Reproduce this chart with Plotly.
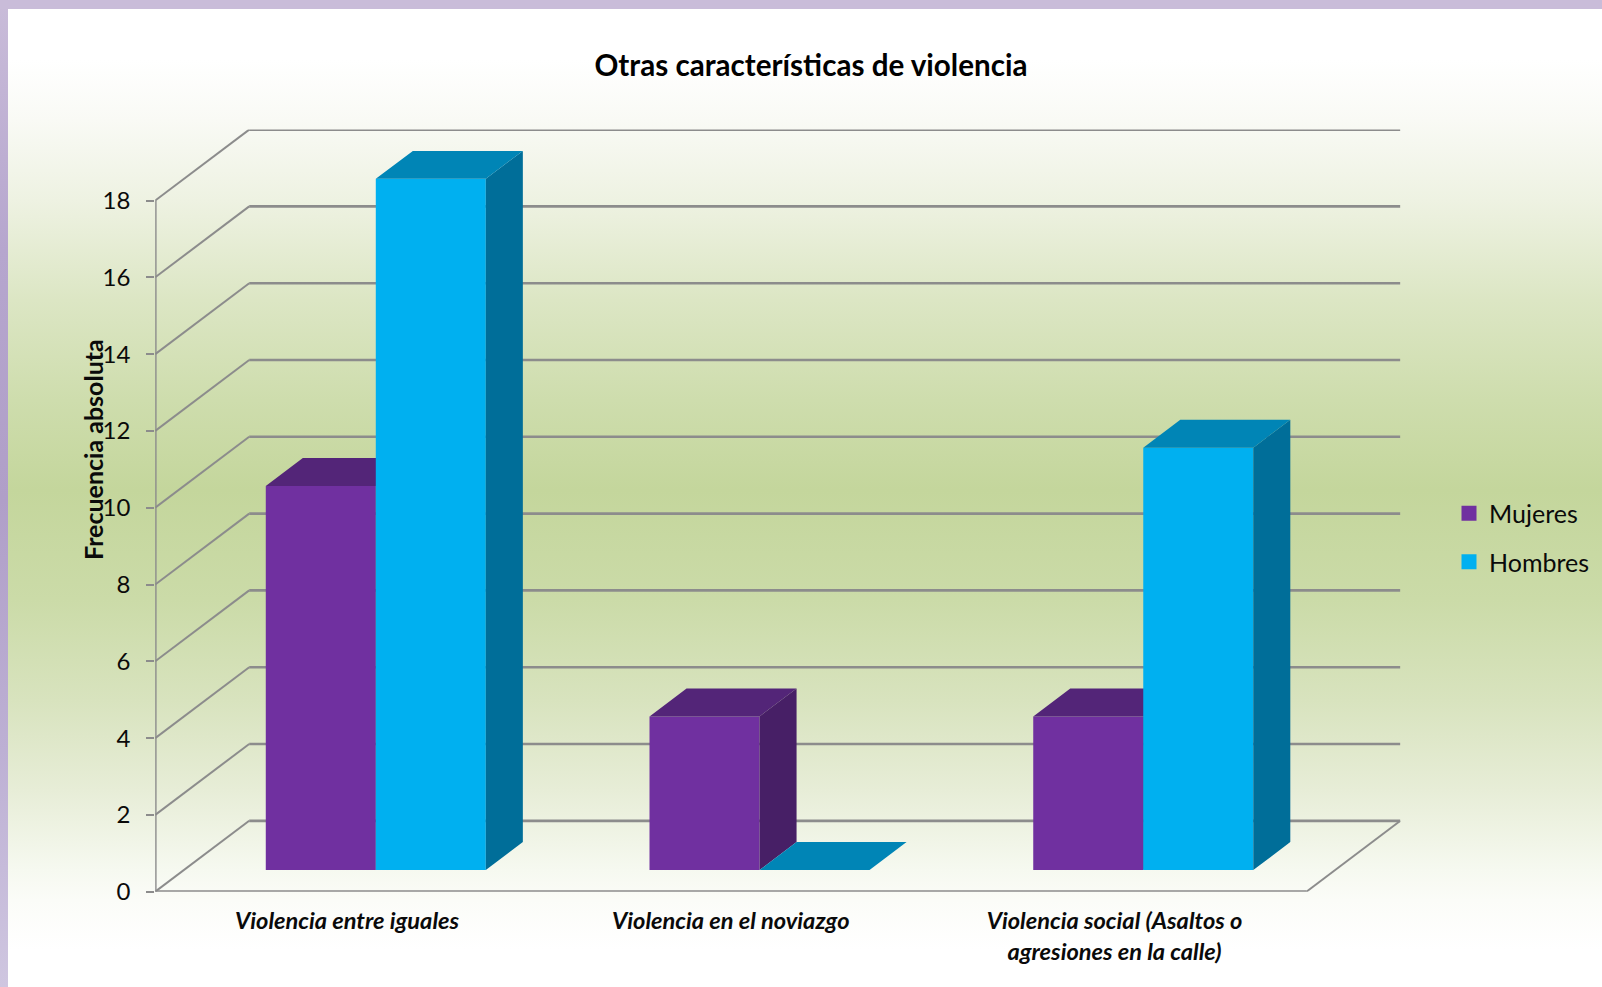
import plotly.graph_objects as go

CATEGORIES = ["Violencia entre iguales", "Violencia en el noviazgo",
              "Violencia social (Asaltos o<br>agresiones en la calle)"]
MUJERES = [10, 4, 4]
HOMBRES = [18, 0, 11]
Y_TICKS = [0, 2, 4, 6, 8, 10, 12, 14, 16, 18]
TITLE = "Otras características de violencia"
Y_TITLE = "Frecuencia absoluta"

W, H = 1602, 987
FONT = "Lato"
INK = "#0a0a0a"
GRID = "#8c8c8c"

# pseudo-3D geometry in data units (categories on x, counts on y)
DEPTH_X, DEPTH_Y = 0.245, 1.847
BAR_W = 0.2867
FRONT = 0.3056      # share of the floor depth in front of the bars
BAR_DEPTH = 0.394   # share of the floor depth taken by the bars
X0, X1 = 0.5, 3.5
Y_TOP = max(Y_TICKS)

PURPLE = ("#7030A0", "#532578", "#471F66")
BLUE = ("#00B0F0", "#0085B6", "#006E99")

# plot rectangle in page pixels
L, R, T, B = 155.2, 1400.4, 129.6, 891.7

BG_STOPS = [(0, "#FFFFFF"), (60, "#FFFFFF"), (120, "#F9FAF5"), (200, "#EEF2E2"), (300, "#DCE6C4"),
            (400, "#CEDDAD"), (490, "#C4D69C"), (600, "#CBDBA8"), (700, "#D8E3BE"), (790, "#E7EDD7"),
            (870, "#F6F9F0"), (900, "#FBFCF8"), (950, "#FFFFFF"), (987, "#FFFFFF")]
STRIP_STOPS = [(0, "#C9BCD9"), (250, "#B6A6CE"), (500, "#B09FC8"), (750, "#BDB0D4"), (987, "#CFC6E0")]


def scale(stops):
    return [[y / H, c] for y, c in stops]


def rect_trace(x0, x1, y0, y1, stops):
    return go.Scatter(x=[x0, x1, x1, x0, x0], y=[y0, y0, y1, y1, y0], mode="lines", fill="toself",
                      line=dict(width=0), hoverinfo="skip", showlegend=False,
                      fillgradient=dict(type="vertical", colorscale=scale(stops), start=0, stop=H),
                      xaxis="x", yaxis="y")


def polys(shapes):
    xs, ys = [], []
    for s in shapes:
        xs += [p[0] for p in s] + [s[0][0], None]
        ys += [p[1] for p in s] + [s[0][1], None]
    return xs, ys


def faces(values, side_shift):
    """Top and side faces of each bar, from its value."""
    dx, dy = BAR_DEPTH * DEPTH_X, BAR_DEPTH * DEPTH_Y
    base = FRONT * DEPTH_Y
    tops, sides = [], []
    for i, v in enumerate(values):
        x0 = i + 1 + FRONT * DEPTH_X + side_shift
        x1 = x0 + BAR_W
        yb, yt = base, base + v
        tops.append([(x0, yt), (x1, yt), (x1 + dx, yt + dy), (x0 + dx, yt + dy)])
        sides.append([(x1, yb), (x1 + dx, yb + dy), (x1 + dx, yt + dy), (x1, yt)])
    return tops, sides


def series(name, values, colors, side_shift, ax):
    xa, ya = f"x{ax}", f"y{ax}"
    out = [go.Bar(x=[i + 1 + FRONT * DEPTH_X + side_shift for i in range(len(values))], y=values,
                  base=FRONT * DEPTH_Y, width=BAR_W, offset=0, marker=dict(color=colors[0], line=dict(width=0)),
                  name=name, showlegend=False, xaxis=xa, yaxis=ya, hovertemplate=name + ": %{y}<extra></extra>")]
    tops, sides = faces(values, side_shift)
    for shapes, col in ((sides, colors[2]), (tops, colors[1])):
        xs, ys = polys(shapes)
        out.append(go.Scatter(x=xs, y=ys, mode="lines", fill="toself", fillcolor=col, line=dict(width=0),
                              hoverinfo="skip", showlegend=False, xaxis=xa, yaxis=ya, cliponaxis=False))
    # legend entry
    out.append(go.Scatter(x=[None], y=[None], mode="markers", name=name, legendgroup=name,
                          marker=dict(symbol="square", size=15, color=colors[0]), xaxis=xa, yaxis=ya))
    return out


traces = [rect_trace(0, 8, 9, H, STRIP_STOPS), rect_trace(8, W, 9, H, BG_STOPS)]

# grid: every tick value runs up the side wall, then along the back wall
wx, wy, bx, by = [], [], [], []
for t in Y_TICKS[1:]:
    wx += [X0, X0 + DEPTH_X, None]
    wy += [t, t + DEPTH_Y, None]
    bx += [X0 + DEPTH_X, X1 + DEPTH_X, None]
    by += [t + DEPTH_Y, t + DEPTH_Y, None]
traces.append(go.Scatter(x=wx, y=wy, mode="lines", line=dict(color=GRID, width=2), hoverinfo="skip",
                         showlegend=False, xaxis="x2", yaxis="y2", cliponaxis=False))
traces.append(go.Scatter(x=bx, y=by, mode="lines", line=dict(color=GRID, width=2.6), hoverinfo="skip",
                         showlegend=False, xaxis="x2", yaxis="y2", cliponaxis=False))
# floor
traces.append(go.Scatter(x=[X0, X0 + DEPTH_X, None, X1 + DEPTH_X, X1],
                         y=[0, DEPTH_Y, None, DEPTH_Y, 0],
                         mode="lines", line=dict(color=GRID, width=2), hoverinfo="skip",
                         showlegend=False, xaxis="x2", yaxis="y2", cliponaxis=False))
traces.append(go.Scatter(x=[X0 + DEPTH_X, X1 + DEPTH_X, None, X1, X0, X0],
                         y=[DEPTH_Y, DEPTH_Y, None, 0, 0, Y_TOP],
                         mode="lines", line=dict(color=GRID, width=2.8), hoverinfo="skip",
                         showlegend=False, xaxis="x2", yaxis="y2", cliponaxis=False))

traces += series("Mujeres", MUJERES, PURPLE, -BAR_W, 3)
traces += series("Hombres", HOMBRES, BLUE, 0, 4)

fig = go.Figure(traces)

dom_x = [L / W, R / W]
dom_y = [(H - B) / H, (H - T) / H]
rng_x = [X0, X1 + DEPTH_X]
rng_y = [0, Y_TOP + DEPTH_Y]
hidden = dict(visible=False, fixedrange=True)

fig.update_layout(
    width=W, height=H, margin=dict(l=0, r=0, t=0, b=0, autoexpand=False),
    paper_bgcolor="#C9BCD9", plot_bgcolor="rgba(0,0,0,0)",
    font=dict(family=FONT, color=INK),
    title=dict(text=f"<b>{TITLE}</b>", x=811 / W, xref="paper", xanchor="center",
               y=1 - 65.5 / H, yref="paper", yanchor="middle", font=dict(family=FONT, size=29.6, color="#000000")),
    xaxis=dict(domain=[0, 1], range=[0, W], **hidden),
    yaxis=dict(domain=[0, 1], range=[H, 0], **hidden),
    xaxis2=dict(domain=dom_x, range=rng_x, anchor="y2", tickmode="array", tickvals=[1, 2, 3], ticktext=CATEGORIES,
                showgrid=False, zeroline=False, showline=False, ticks="", ticklabelstandoff=13,
                tickfont=dict(family=FONT, size=23.6, color=INK, weight="bold", style="italic"), fixedrange=True),
    yaxis2=dict(domain=dom_y, range=rng_y, anchor="x2", tickmode="array", tickvals=Y_TICKS,
                ticktext=[str(t) for t in Y_TICKS], showgrid=False, zeroline=False, showline=False,
                ticks="outside", ticklen=8, tickwidth=2, tickcolor=GRID, ticklabelstandoff=11,
                tickfont=dict(family=FONT, size=24, color=INK), fixedrange=True),
    xaxis3=dict(overlaying="x2", anchor="y3", range=rng_x, domain=dom_x, **hidden),
    yaxis3=dict(overlaying="y2", anchor="x3", range=rng_y, domain=dom_y, **hidden),
    xaxis4=dict(overlaying="x2", anchor="y4", range=rng_x, domain=dom_x, **hidden),
    yaxis4=dict(overlaying="y2", anchor="x4", range=rng_y, domain=dom_y, **hidden),
    legend=dict(x=1449 / W, xanchor="left", y=1 - 490.5 / H, yanchor="top", bgcolor="rgba(0,0,0,0)",
                font=dict(family=FONT, size=25, color=INK), tracegroupgap=13),
    annotations=[dict(text=f"<b>{Y_TITLE}</b>", xref="paper", yref="paper", x=93 / W, y=1 - 450 / H,
                      textangle=-90, showarrow=False, xanchor="center", yanchor="middle",
                      font=dict(family=FONT, size=25, color=INK))],
    showlegend=True,
)

fig.write_html("out.html", config=dict(displayModeBar=False),
               post_script="document.body.style.margin='0';document.body.style.overflow='hidden';")
